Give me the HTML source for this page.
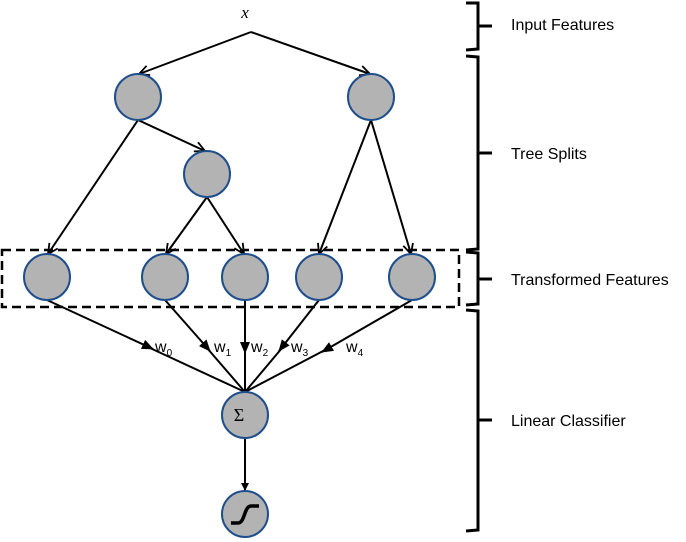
<!DOCTYPE html>
<html><head><style>body{margin:0;background:#fff}svg{display:block}</style></head><body>
<svg width="686" height="542" xmlns="http://www.w3.org/2000/svg" font-family="Liberation Sans, sans-serif">
<defs>
<marker id="o" markerWidth="12" markerHeight="12" refX="11" refY="6" orient="auto" markerUnits="userSpaceOnUse"><path d="M1,1 L11,6 L1,11" fill="none" stroke="#000" stroke-width="1.8"/></marker>
<marker id="f" markerWidth="12" markerHeight="10" refX="11" refY="5" orient="auto" markerUnits="userSpaceOnUse"><path d="M0,0 L12,5 L0,10 z" fill="#000"/></marker>
<marker id="s" markerWidth="8" markerHeight="8" refX="8" refY="4" orient="auto" markerUnits="userSpaceOnUse"><path d="M0,0 L8,4 L0,8 z" fill="#000"/></marker>
</defs>
<g stroke="#000" stroke-width="2" fill="none">
<line x1="251" y1="32" x2="139" y2="74" marker-end="url(#o)"/>
<line x1="251" y1="32" x2="370" y2="74" marker-end="url(#o)"/>
<line x1="138" y1="120" x2="205" y2="151" marker-end="url(#o)"/>
<line x1="138" y1="120" x2="48" y2="254" marker-end="url(#o)"/>
<line x1="207" y1="197" x2="166" y2="254" marker-end="url(#o)"/>
<line x1="207" y1="197" x2="244" y2="254" marker-end="url(#o)"/>
<line x1="371" y1="120" x2="319" y2="254" marker-end="url(#o)"/>
<line x1="371" y1="120" x2="411" y2="254" marker-end="url(#o)"/>
<line x1="47" y1="300" x2="153" y2="349" marker-end="url(#f)"/><line x1="150" y1="348" x2="245" y2="392"/>
<line x1="165" y1="300" x2="210" y2="351" marker-end="url(#f)"/><line x1="207" y1="348" x2="245" y2="392"/>
<line x1="245" y1="300" x2="245" y2="353" marker-end="url(#f)"/><line x1="245" y1="348" x2="245" y2="392"/>
<line x1="319" y1="300" x2="279" y2="351" marker-end="url(#f)"/><line x1="282" y1="348" x2="245" y2="392"/>
<line x1="412" y1="300" x2="322" y2="352" marker-end="url(#f)"/><line x1="325" y1="350" x2="245" y2="392"/>
<line x1="245" y1="438" x2="245" y2="491" marker-end="url(#s)"/>
<rect x="2" y="250" width="457" height="57" stroke-width="2.5" stroke-dasharray="9,5"/>
</g>
<g fill="#b3b3b3" stroke="#1f4e8c" stroke-width="2">
<circle cx="138" cy="97" r="23"/><circle cx="371" cy="97" r="23"/><circle cx="207" cy="174" r="23"/>
<circle cx="47" cy="277" r="23"/><circle cx="165" cy="277" r="23"/><circle cx="245" cy="277" r="23"/><circle cx="319" cy="277" r="23"/><circle cx="412" cy="277" r="23"/>
<circle cx="245" cy="415" r="23"/><circle cx="245" cy="514" r="23"/>
</g>
<path d="M231,523 L238,523 C245,523 244,506 251,506 L259,506" fill="none" stroke="#000" stroke-width="3.5"/>
<text x="245" y="18" font-family="Liberation Serif, serif" font-style="italic" font-size="17" text-anchor="middle">x</text>
<text x="239" y="421" font-family="Liberation Serif, serif" font-size="18" text-anchor="middle">Σ</text>
<g font-size="16">
<text x="155" y="352">w<tspan font-size="10" dy="4">0</tspan></text>
<text x="214" y="352">w<tspan font-size="10" dy="4">1</tspan></text>
<text x="251" y="352">w<tspan font-size="10" dy="4">2</tspan></text>
<text x="291" y="352">w<tspan font-size="10" dy="4">3</tspan></text>
<text x="346" y="352">w<tspan font-size="10" dy="4">4</tspan></text>
</g>
<g fill="none" stroke="#000" stroke-width="3">
<path d="M466,3 L478,3 L478,49 L466,50 M478,26 L492,26"/>
<path d="M466,56 L478,57 L478,249 L466,250 M478,153 L492,153"/>
<path d="M466,252 L478,253 L478,304 L466,305 M478,279 L492,279"/>
<path d="M466,310 L478,311 L478,530 L466,531 M478,420 L492,420"/>
</g>
<g font-size="16">
<text x="511" y="30">Input Features</text>
<text x="511" y="159">Tree Splits</text>
<text x="511" y="285">Transformed Features</text>
<text x="511" y="426">Linear Classifier</text>
</g>
</svg>
</body></html>
